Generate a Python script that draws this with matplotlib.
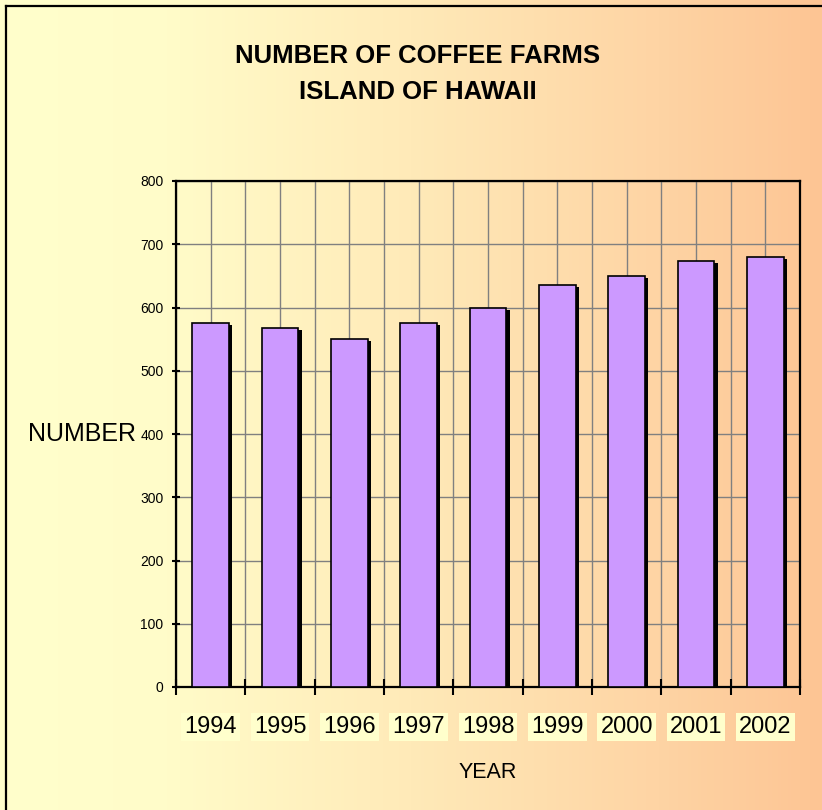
import matplotlib.pyplot as plt
import matplotlib.patheffects as pe
from matplotlib.colors import LinearSegmentedColormap
from matplotlib.lines import Line2D
import numpy as np

plt.rcParams['font.family'] = ['Liberation Sans', 'DejaVu Sans']

years = ['1994', '1995', '1996', '1997', '1998', '1999', '2000', '2001', '2002']
farms = [575, 568, 550, 575, 600, 635, 650, 673, 680]
title = "NUMBER OF COFFEE FARMS\nISLAND OF HAWAII"

W, H = 822, 810
fig = plt.figure(figsize=(W / 100, H / 100), dpi=100)

# gradient background (yellow -> peach)
bg = fig.add_axes([0, 0, 1, 1], zorder=-10)
cmap = LinearSegmentedColormap.from_list(
    'bg', [(0.0, '#FFFFCC'), (0.2, '#FFFCC9'), (0.5, '#FFEAB8'), (0.8, '#FED4A4'), (1.0, '#FDC594')])
bg.imshow(np.linspace(0, 1, 256).reshape(1, -1), aspect='auto', cmap=cmap, extent=[0, 1, 0, 1])
bg.set_xlim(0, 1)
bg.set_ylim(0, 1)
bg.axis('off')

# frame on left and top
x0, y0 = 6 / W, 1 - 6 / H
fig.add_artist(Line2D([x0, x0], [0, y0], transform=fig.transFigure, color='black', lw=1.6))
fig.add_artist(Line2D([x0, 1], [y0, y0], transform=fig.transFigure, color='black', lw=1.6))

ax = fig.add_axes([176 / W, 1 - 687 / H, 624 / W, 506 / H])
ax.patch.set_alpha(0)
x = np.arange(len(years))

bars = ax.bar(x, farms, 0.53, color='#CC99FF', edgecolor='black', linewidth=1.2, zorder=3)
for b in bars:
    b.set_path_effects([pe.SimplePatchShadow(offset=(2.4, -1.5), shadow_rgbFace='black', alpha=1.0),
                        pe.Normal()])

ax.set_xlim(-0.5, len(years) - 0.5)
ax.set_ylim(0, 800)
ax.set_yticks(range(0, 801, 100))
ax.set_xticks(np.arange(-0.5, len(years), 1.0))
ax.set_xticklabels([])
ax.set_xticks(x, minor=True)
ax.set_xticklabels(years, minor=True, fontsize=17)
ax.tick_params(axis='x', which='major', direction='inout', length=12, width=1.5, color='black')
ax.tick_params(axis='x', which='minor', length=0, pad=21)
ax.tick_params(axis='y', direction='inout', length=6, width=1.5, labelsize=10, pad=6)
for lbl in ax.get_xticklabels(minor=True):
    lbl.set_bbox(dict(facecolor='#FFFFCC', edgecolor='none', pad=2.2))

ax.grid(True, which='both', color='#808080', linewidth=1.0, zorder=0)
ax.set_axisbelow(True)
for s in ax.spines.values():
    s.set_linewidth(1.6)
    s.set_color('black')

ax.set_xlabel('YEAR', fontsize=15.5, labelpad=17)
ax.set_ylabel('NUMBER', fontsize=18, rotation=0, ha='right', va='center')
ax.yaxis.set_label_coords(-0.064, 0.5)

fig.text(418 / W, 1 - 74 / H, title, ha='center', va='center', fontsize=18.5,
         fontweight='bold', linespacing=1.6)

fig.savefig('out.png', dpi=100)
